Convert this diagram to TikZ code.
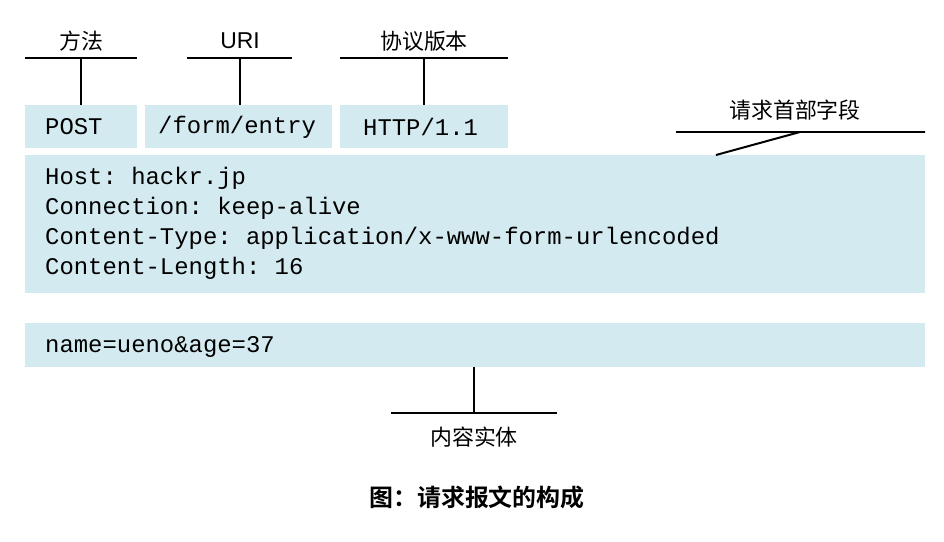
\documentclass[tikz,border=0pt]{standalone}
\usepackage{fontspec}
\setmonofont{Liberation Mono}
\newfontfamily\cjk{Noto Sans CJK SC}
\newfontfamily\cjkbold{Noto Sans CJK SC Bold}
\definecolor{req_blue}{HTML}{D3EBF0}
\tikzset{
  field/.style={fill=req_blue, draw=none, anchor=north west},
  code/.style={font=\ttfamily\fontsize{24}{30}\selectfont, anchor=west, inner sep=0pt},
  tag/.style={font=\cjk\fontsize{22}{26}\selectfont, inner sep=0pt},
  leader/.style={line width=2pt}
}
\begin{document}
\begin{tikzpicture}[x=1bp, y=-1bp]
  \useasboundingbox (0,0) rectangle (944,542);

  % request line
  \node[field, minimum width=112bp, minimum height=43bp] (method) at (25,105) {};
  \node[field, minimum width=187bp, minimum height=43bp] (uri) at (145,105) {};
  \node[field, minimum width=168bp, minimum height=43bp] (version) at (340,105) {};
  \node[code] at (45,127) {POST};
  \node[code] at (158,127) {/form/entry};
  \node[code] at (363,127) {HTTP/1.1};

  % header fields
  \node[field, minimum width=900bp, minimum height=138bp] (header) at (25,155) {};
  \node[code] at (45,178) {Host: hackr.jp};
  \node[code] at (45,208) {Connection: keep-alive};
  \node[code] at (45,238) {Content-Type: application/x-www-form-urlencoded};
  \node[code] at (45,268) {Content-Length: 16};

  % body
  \node[field, minimum width=900bp, minimum height=44bp] (body) at (25,323) {};
  \node[code] at (45,347) {name=ueno\&age=37};

  % labels
  \node[tag] (lmethod) at (81,41) {方法};
  \node[tag, font=\fontspec{Liberation Sans}\fontsize{23}{26}\selectfont] (luri) at (240,41) {URI};
  \node[tag] (lversion) at (424,41) {协议版本};
  \node[tag] (lheader) at (795,110) {请求首部字段};
  \node[tag] (lbody) at (474,437) {内容实体};
  \node[font=\cjkbold\fontsize{24}{28}\selectfont, inner sep=0pt] (caption) at (477,497) {图：请求报文的构成};

  % leaders
  \draw[leader] (25,58) -- (137,58) (81,58) -- (method.north -| 81,0);
  \draw[leader] (187,58) -- (292,58) (240,58) -- (uri.north -| 240,0);
  \draw[leader] (340,58) -- (508,58) (424,58) -- (version.north -| 424,0);
  \draw[leader] (676,132) -- (925,132) (800,132) -- (716,155);
  \draw[leader] (body.south -| 474,0) -- (474,413) (391,413) -- (557,413);
\end{tikzpicture}
\end{document}
